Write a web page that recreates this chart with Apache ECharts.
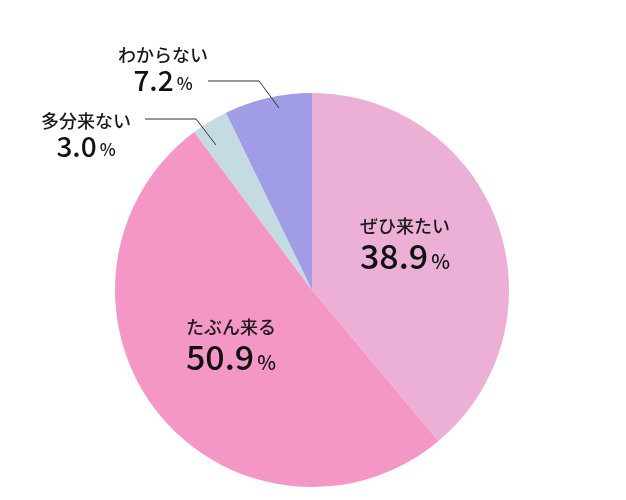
<!DOCTYPE html>
<html>
<head>
<meta charset="utf-8">
<style>
  html, body { margin: 0; padding: 0; background: #fff; }
  #chart { width: 626px; height: 500px; }
</style>
<script src="https://cdn.jsdelivr.net/npm/echarts@6/dist/echarts.min.js"></script>
</head>
<body>
<div id="chart"></div>
<script>
// data
var categories = ['ぜひ来たい', 'たぶん来る', '多分来ない', 'わからない'];
var values = [38.9, 50.9, 3.0, 7.2];
var colors = ['#ECB0D6', '#F497C7', '#C5DBE2', '#A09DE6'];

// label placement (px), same order as categories
var labelPos = [[405, 244], [231, 345], [86, 135], [163, 69]];
var linePts = [null, null,
    [[145, 119], [196, 119], [216, 145]],
    [[208, 81], [259, 81], [279, 108]]];

var myChart = echarts.init(document.getElementById('chart'));

var FONT = 'Noto Sans CJK JP';

// colored slices
var sliceData = categories.map(function (name, i) {
    return { name: name, value: values[i], itemStyle: { color: colors[i] } };
});

// transparent copy on top, only for labels + leader lines (so lines show over the slices)
var labelData = categories.map(function (name, i) {
    var outside = linePts[i] != null;
    return {
        name: name,
        value: values[i],
        label: { position: outside ? 'outside' : 'inside' },
        labelLine: { show: outside }
    };
});

var pieBase = {
    type: 'pie',
    center: [312, 290],
    radius: 197,
    startAngle: 90,
    clockwise: true,
    avoidLabelOverlap: false,
    silent: true,
    emphasis: { disabled: true }
};

var option = {
    animation: false,
    series: [
        Object.assign({}, pieBase, {
            z: 2,
            data: sliceData,
            label: { show: false },
            labelLine: { show: false }
        }),
        Object.assign({}, pieBase, {
            z: 5,
            data: labelData,
            itemStyle: { color: 'rgba(0,0,0,0)' },
            label: {
                show: true,
                formatter: function (p) {
                    var s = linePts[p.dataIndex] ? 'O' : 'I';
                    return '{name' + s + '|' + p.name + '}\n{num' + s + '|' + p.value.toFixed(1) + '}{pct' + s + '|%}';
                },
                align: 'center',
                rich: {
                    nameI: { fontFamily: FONT, fontSize: 18, fontWeight: 500, color: '#1a1a1a', lineHeight: 24 },
                    numI: { fontFamily: FONT, fontSize: 34, fontWeight: 500, color: '#111', lineHeight: 36 },
                    pctI: { fontFamily: FONT, fontSize: 20, fontWeight: 500, color: '#111', lineHeight: 36, padding: [10, 0, 0, 3] },
                    nameO: { fontFamily: FONT, fontSize: 18, fontWeight: 500, color: '#1a1a1a', lineHeight: 22 },
                    numO: { fontFamily: FONT, fontSize: 28, fontWeight: 500, color: '#111', lineHeight: 28 },
                    pctO: { fontFamily: FONT, fontSize: 17, fontWeight: 500, color: '#111', lineHeight: 28, padding: [7, 0, 0, 3] }
                }
            },
            labelLine: {
                lineStyle: { color: '#333', width: 1 }
            },
            labelLayout: function (params) {
                var i = params.dataIndex;
                var res = {
                    x: labelPos[i][0],
                    y: labelPos[i][1],
                    align: 'center',
                    verticalAlign: 'middle'
                };
                if (linePts[i]) {
                    res.labelLinePoints = linePts[i];
                }
                return res;
            }
        })
    ]
};
myChart.setOption(option);
</script>
</body>
</html>
